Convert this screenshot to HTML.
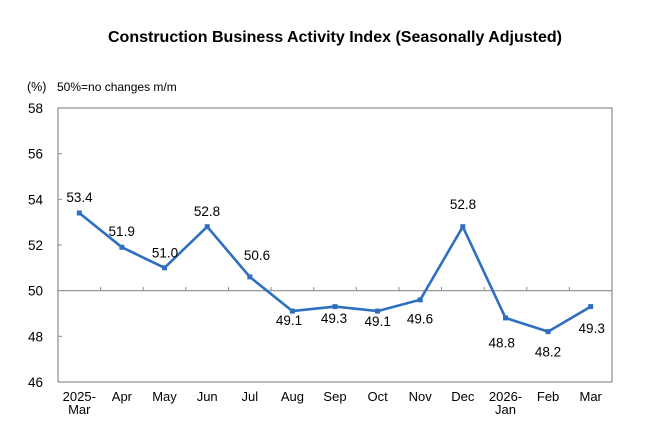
<!DOCTYPE html>
<html><head><meta charset="utf-8"><style>
html,body{margin:0;padding:0;background:#fff;}
svg{display:block;font-family:"Liberation Sans",Arial,sans-serif;}
</style></head><body>
<svg width="660" height="440" viewBox="0 0 660 440" xmlns="http://www.w3.org/2000/svg">
<rect width="660" height="440" fill="#fff"/>
<text x="335" y="42" font-size="16" font-weight="bold" text-anchor="middle" textLength="454" lengthAdjust="spacingAndGlyphs" fill="#000">Construction Business Activity Index (Seasonally Adjusted)</text>
<text x="27" y="91" font-size="12.5" fill="#000">(%)</text>
<text x="57" y="91" font-size="12" fill="#000">50%=no changes m/m</text>
<!-- plot box -->
<rect x="58" y="108" width="554" height="274" fill="none" stroke="#8c8c8c" stroke-width="1.2"/>
<!-- 50 line -->
<line x1="58" y1="290.7" x2="612" y2="290.7" stroke="#8c8c8c" stroke-width="1.2"/>
<!-- y ticks -->
<g stroke="#8c8c8c" stroke-width="1">
<line x1="58" y1="153.7" x2="62" y2="153.7"/>
<line x1="58" y1="199.3" x2="62" y2="199.3"/>
<line x1="58" y1="245.0" x2="62" y2="245.0"/>
<line x1="58" y1="336.3" x2="62" y2="336.3"/>
<!-- x ticks on 50 line -->
<line x1="100.6" y1="290.7" x2="100.6" y2="287"/>
<line x1="143.2" y1="290.7" x2="143.2" y2="287"/>
<line x1="185.8" y1="290.7" x2="185.8" y2="287"/>
<line x1="228.5" y1="290.7" x2="228.5" y2="287"/>
<line x1="271.1" y1="290.7" x2="271.1" y2="287"/>
<line x1="313.7" y1="290.7" x2="313.7" y2="287"/>
<line x1="356.3" y1="290.7" x2="356.3" y2="287"/>
<line x1="398.9" y1="290.7" x2="398.9" y2="287"/>
<line x1="441.5" y1="290.7" x2="441.5" y2="287"/>
<line x1="484.2" y1="290.7" x2="484.2" y2="287"/>
<line x1="526.8" y1="290.7" x2="526.8" y2="287"/>
<line x1="569.4" y1="290.7" x2="569.4" y2="287"/>
</g>
<!-- y labels -->
<g font-size="13.5" text-anchor="end" fill="#000">
<text x="43" y="113">58</text>
<text x="43" y="158.7">56</text>
<text x="43" y="204.3">54</text>
<text x="43" y="250">52</text>
<text x="43" y="295.7">50</text>
<text x="43" y="341.3">48</text>
<text x="43" y="387">46</text>
</g>
<!-- x labels -->
<g font-size="13" text-anchor="middle" fill="#000">
<text x="79.3" y="401">2025-</text>
<text x="79.3" y="414">Mar</text>
<text x="121.9" y="401">Apr</text>
<text x="164.5" y="401">May</text>
<text x="207.2" y="401">Jun</text>
<text x="249.8" y="401">Jul</text>
<text x="292.4" y="401">Aug</text>
<text x="335" y="401">Sep</text>
<text x="377.6" y="401">Oct</text>
<text x="420.2" y="401">Nov</text>
<text x="462.8" y="401">Dec</text>
<text x="505.5" y="401">2026-</text>
<text x="505.5" y="414">Jan</text>
<text x="548.1" y="401">Feb</text>
<text x="590.7" y="401">Mar</text>
</g>
<!-- series -->
<polyline fill="none" stroke="#2e6fc0" stroke-width="2.6" stroke-linejoin="round"
points="79.3,213.0 121.9,247.3 164.5,267.8 207.2,226.7 249.8,276.9 292.4,311.1 335,306.6 377.6,311.1 420.2,299.8 462.8,226.7 505.5,317.9 548.1,331.6 590.7,306.6"/>
<g fill="#2e6fc0">
<rect x="76.8" y="210.5" width="5" height="5"/>
<rect x="119.4" y="244.8" width="5" height="5"/>
<rect x="162" y="265.3" width="5" height="5"/>
<rect x="204.7" y="224.2" width="5" height="5"/>
<rect x="247.3" y="274.4" width="5" height="5"/>
<rect x="289.9" y="308.6" width="5" height="5"/>
<rect x="332.5" y="304.1" width="5" height="5"/>
<rect x="375.1" y="308.6" width="5" height="5"/>
<rect x="417.7" y="297.3" width="5" height="5"/>
<rect x="460.3" y="224.2" width="5" height="5"/>
<rect x="503" y="315.4" width="5" height="5"/>
<rect x="545.6" y="329.1" width="5" height="5"/>
<rect x="588.2" y="304.1" width="5" height="5"/>
</g>
<!-- data labels -->
<g font-size="13.5" text-anchor="middle" fill="#000">
<text x="79.5" y="202">53.4</text>
<text x="121.7" y="236">51.9</text>
<text x="165" y="257.5">51.0</text>
<text x="207" y="216">52.8</text>
<text x="257" y="260">50.6</text>
<text x="289" y="325">49.1</text>
<text x="334" y="323">49.3</text>
<text x="377.7" y="326">49.1</text>
<text x="420" y="323.5">49.6</text>
<text x="463" y="209">52.8</text>
<text x="501.7" y="347.5">48.8</text>
<text x="548" y="356.7">48.2</text>
<text x="591.7" y="333">49.3</text>
</g>
</svg>
</body></html>
